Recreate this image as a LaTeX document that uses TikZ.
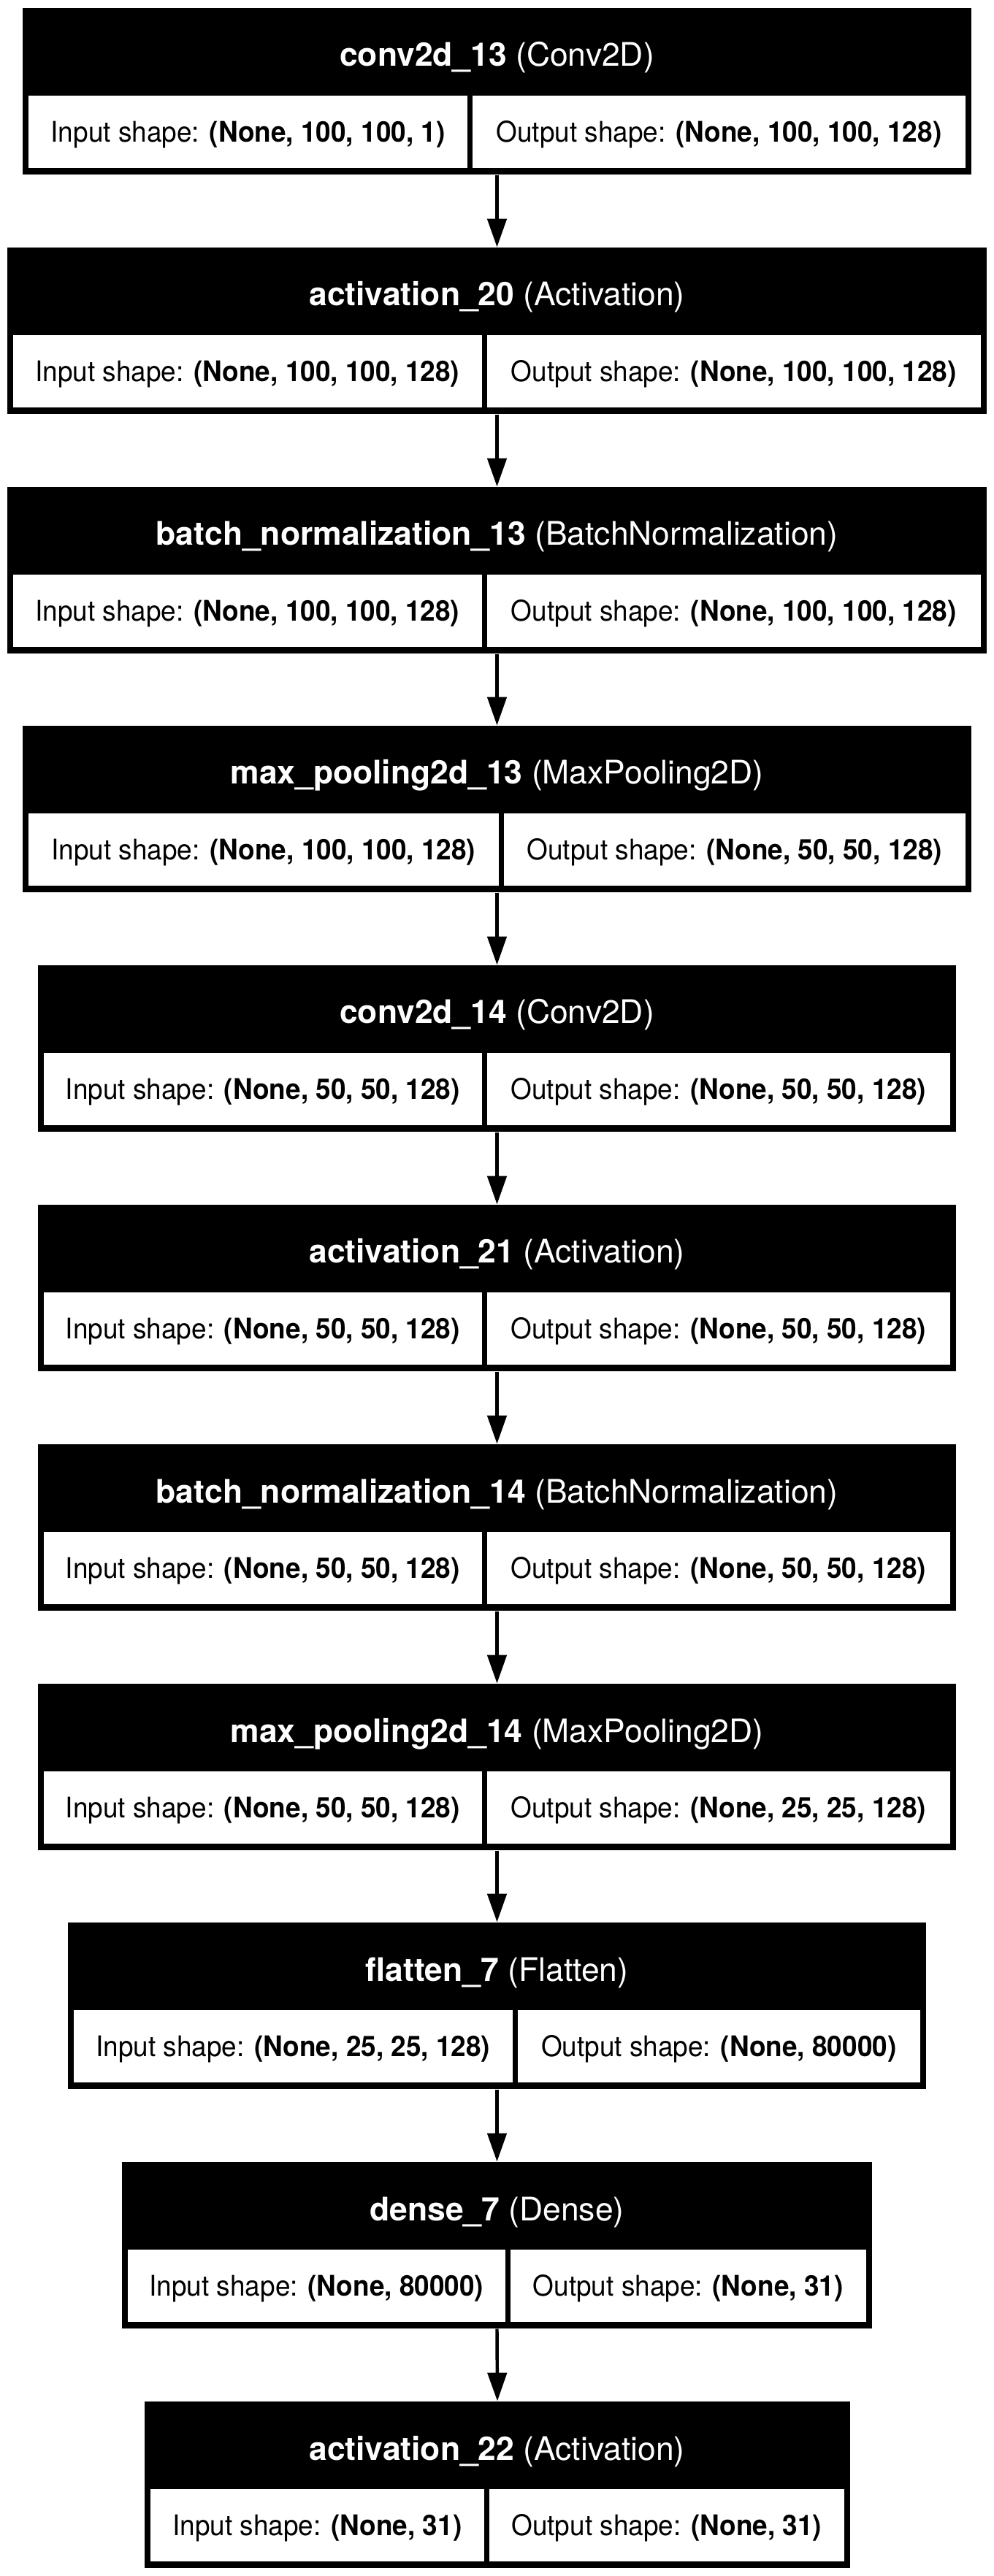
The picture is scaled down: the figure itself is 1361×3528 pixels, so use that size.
\documentclass[tikz,border=0pt]{standalone}
\usepackage{fontspec}
\setmainfont{TeX Gyre Heros}
\newfontfamily\shapefont{TeX Gyre Heros}[FakeStretch=0.95]
\usepackage{tikz}
\usetikzlibrary{fit,arrows.meta}

\begin{document}
\begin{tikzpicture}[x=0.36pt,y=-0.36pt,
	layerbox/.style={fill=black,inner sep=0pt},
	band/.style={inner sep=0pt,text=white,font=\fontsize{16}{19}\selectfont,text height=11.5pt,text depth=0pt},
	cell/.style={fill=white,inner sep=0pt,minimum height=35.64pt,font=\shapefont\fontsize{14}{17}\selectfont,text height=10.1pt,text depth=0pt},
	wire/.style={-{Triangle[length=14pt,width=9.4pt]},line width=1.6pt}]
			\useasboundingbox (0,0) rectangle (1361,3528);
			% conv2d_13
			\node [layerbox,fit={(31,11) (1330,239)}] (l1) {};
			\node [band] (t1) at (680.5,75) {\textbf{conv2d\_13} (Conv2D)};
			\node [cell,minimum width=601*0.36pt] (i1) at (339.5,180.5) {Input shape: \textbf{(None, 100, 100, 1)}};
			\node [cell,minimum width=675*0.36pt] (o1) at (984.5,180.5) {Output shape: \textbf{(None, 100, 100, 128)}};
			% activation_20
			\node [layerbox,fit={(10,339) (1351,567)}] (l2) {};
			\node [band] (t2) at (680.5,403) {\textbf{activation\_20} (Activation)};
			\node [cell,minimum width=641.5*0.36pt] (i2) at (338.75,508.5) {Input shape: \textbf{(None, 100, 100, 128)}};
			\node [cell,minimum width=676.5*0.36pt] (o2) at (1004.75,508.5) {Output shape: \textbf{(None, 100, 100, 128)}};
			% batch_normalization_13
			\node [layerbox,fit={(10,667) (1351,895)}] (l3) {};
			\node [band] (t3) at (680.5,731) {\textbf{batch\_normalization\_13} (BatchNormalization)};
			\node [cell,minimum width=641.5*0.36pt] (i3) at (338.75,836.5) {Input shape: \textbf{(None, 100, 100, 128)}};
			\node [cell,minimum width=676.5*0.36pt] (o3) at (1004.75,836.5) {Output shape: \textbf{(None, 100, 100, 128)}};
			% max_pooling2d_13
			\node [layerbox,fit={(31,994) (1330,1222)}] (l4) {};
			\node [band] (t4) at (680.5,1058) {\textbf{max\_pooling2d\_13} (MaxPooling2D)};
			\node [cell,minimum width=643.5*0.36pt] (i4) at (360.75,1163.5) {Input shape: \textbf{(None, 100, 100, 128)}};
			\node [cell,minimum width=632.5*0.36pt] (o4) at (1005.75,1163.5) {Output shape: \textbf{(None, 50, 50, 128)}};
			% conv2d_14
			\node [layerbox,fit={(52,1322) (1309,1550)}] (l5) {};
			\node [band] (t5) at (680.5,1386) {\textbf{conv2d\_14} (Conv2D)};
			\node [cell,minimum width=599.5*0.36pt] (i5) at (359.75,1491.5) {Input shape: \textbf{(None, 50, 50, 128)}};
			\node [cell,minimum width=634.5*0.36pt] (o5) at (983.75,1491.5) {Output shape: \textbf{(None, 50, 50, 128)}};
			% activation_21
			\node [layerbox,fit={(52,1650) (1309,1878)}] (l6) {};
			\node [band] (t6) at (680.5,1714) {\textbf{activation\_21} (Activation)};
			\node [cell,minimum width=599.5*0.36pt] (i6) at (359.75,1819.5) {Input shape: \textbf{(None, 50, 50, 128)}};
			\node [cell,minimum width=634.5*0.36pt] (o6) at (983.75,1819.5) {Output shape: \textbf{(None, 50, 50, 128)}};
			% batch_normalization_14
			\node [layerbox,fit={(52,1978) (1309,2206)}] (l7) {};
			\node [band] (t7) at (680.5,2042) {\textbf{batch\_normalization\_14} (BatchNormalization)};
			\node [cell,minimum width=599.5*0.36pt] (i7) at (359.75,2147.5) {Input shape: \textbf{(None, 50, 50, 128)}};
			\node [cell,minimum width=634.5*0.36pt] (o7) at (983.75,2147.5) {Output shape: \textbf{(None, 50, 50, 128)}};
			% max_pooling2d_14
			\node [layerbox,fit={(52,2306) (1309,2534)}] (l8) {};
			\node [band] (t8) at (680.5,2370) {\textbf{max\_pooling2d\_14} (MaxPooling2D)};
			\node [cell,minimum width=599.5*0.36pt] (i8) at (359.75,2475.5) {Input shape: \textbf{(None, 50, 50, 128)}};
			\node [cell,minimum width=634.5*0.36pt] (o8) at (983.75,2475.5) {Output shape: \textbf{(None, 25, 25, 128)}};
			% flatten_7
			\node [layerbox,fit={(93,2633) (1268,2861)}] (l9) {};
			\node [band] (t9) at (680.5,2697) {\textbf{flatten\_7} (Flatten)};
			\node [cell,minimum width=600.5*0.36pt] (i9) at (401.25,2802.5) {Input shape: \textbf{(None, 25, 25, 128)}};
			\node [cell,minimum width=551.5*0.36pt] (o9) at (984.25,2802.5) {Output shape: \textbf{(None, 80000)}};
			% dense_7
			\node [layerbox,fit={(167,2961) (1194,3189)}] (l10) {};
			\node [band] (t10) at (680.5,3025) {\textbf{dense\_7} (Dense)};
			\node [cell,minimum width=516.5*0.36pt] (i10) at (433.25,3130.5) {Input shape: \textbf{(None, 80000)}};
			\node [cell,minimum width=487.5*0.36pt] (o10) at (942.25,3130.5) {Output shape: \textbf{(None, 31)}};
			% activation_22
			\node [layerbox,fit={(198,3289) (1164,3517)}] (l11) {};
			\node [band] (t11) at (680.5,3353) {\textbf{activation\_22} (Activation)};
			\node [cell,minimum width=456.5*0.36pt] (i11) at (434.25,3458.5) {Input shape: \textbf{(None, 31)}};
			\node [cell,minimum width=486.5*0.36pt] (o11) at (912.75,3458.5) {Output shape: \textbf{(None, 31)}};
			% edges
			\draw [wire] (l1.south) -- (l2.north);
			\draw [wire] (l2.south) -- (l3.north);
			\draw [wire] (l3.south) -- (l4.north);
			\draw [wire] (l4.south) -- (l5.north);
			\draw [wire] (l5.south) -- (l6.north);
			\draw [wire] (l6.south) -- (l7.north);
			\draw [wire] (l7.south) -- (l8.north);
			\draw [wire] (l8.south) -- (l9.north);
			\draw [wire] (l9.south) -- (l10.north);
			\draw [wire] (l10.south) -- (l11.north);
\end{tikzpicture}
\end{document}
